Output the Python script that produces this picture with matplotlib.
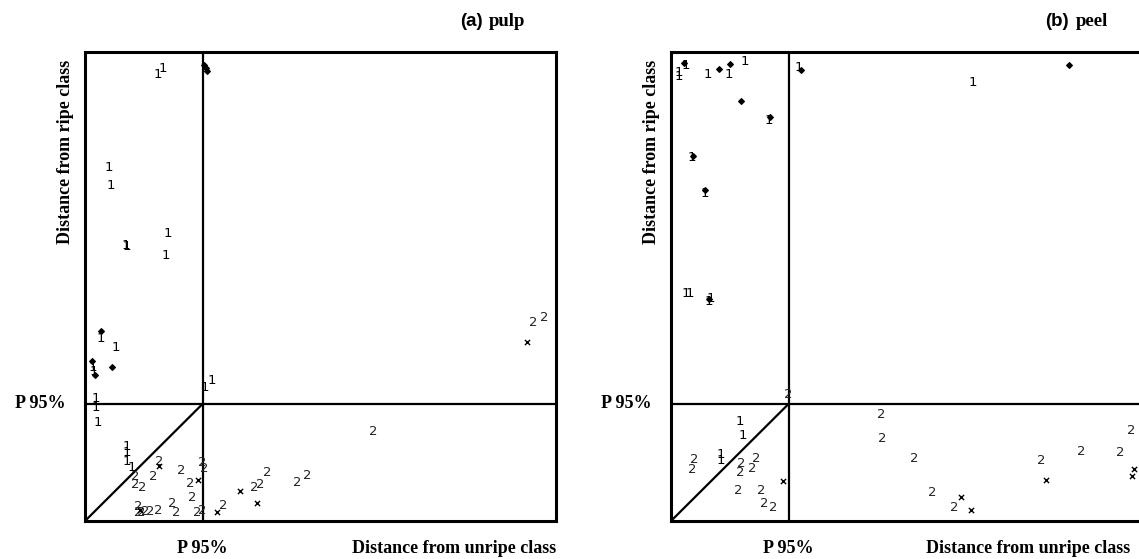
import matplotlib.pyplot as plt
import matplotlib.transforms as mtransforms

# axis units: 0..100 on both axes, P 95% limit at 25
P95 = 25

# (a) pulp
pulp_ones_x = [15.5, 16.6, 5.1, 5.5, 8.7, 8.9, 17.6, 17.2, 3.4, 6.6, 1.7, 1.9, 25.5, 27.0,
               2.3, 2.3, 2.8, 8.9, 8.9, 8.9, 10.0]
pulp_ones_y = [95.1, 96.4, 75.3, 71.6, 58.8, 58.6, 61.4, 56.7, 39.0, 37.1, 32.8, 31.8, 28.4, 29.9,
               26.2, 24.1, 21.1, 15.8, 14.7, 12.6, 11.5]
pulp_diam_x = [25.3, 25.6, 25.9, 3.4, 1.5, 2.1, 5.7]
pulp_diam_y = [97.2, 96.6, 96.0, 40.5, 34.1, 31.1, 32.8]
pulp_twos_x = [10.6, 10.6, 12.1, 14.4, 15.7, 20.4, 22.3, 22.7, 24.8, 25.3,
               11.3, 11.3, 11.9, 12.7, 13.8, 15.5, 18.5, 19.3, 23.8, 24.8,
               29.3, 35.9, 37.2, 38.6, 45.0, 47.1, 61.1, 95.1, 97.5]
pulp_twos_y = [9.4, 7.7, 7.2, 9.4, 12.6, 10.7, 8.1, 5.1, 12.4, 11.3,
               3.0, 1.9, 1.9, 2.1, 2.1, 2.3, 3.8, 1.9, 1.9, 2.3,
               3.4, 7.2, 7.7, 10.4, 8.3, 9.8, 19.0, 42.4, 43.3]
pulp_cross_x = [15.7, 24.0, 28.0, 32.9, 36.5, 93.8, 11.7]
pulp_cross_y = [11.7, 8.7, 1.9, 6.4, 3.8, 38.2, 2.3]

# (b) peel
peel_ones_x = [1.7, 1.7, 3.2, 7.9, 12.3, 15.7, 20.8, 4.5, 7.2, 3.2, 4.0, 8.1, 8.5,
               27.2, 64.1, 14.6, 15.3, 10.6, 10.6]
peel_ones_y = [94.7, 95.7, 97.2, 95.1, 95.3, 97.9, 85.5, 77.4, 69.9, 48.6, 48.6, 46.7, 47.5,
               96.8, 93.6, 21.3, 18.3, 14.1, 13.0]
peel_diam_x = [2.8, 10.2, 12.5, 14.9, 21.0, 4.7, 7.2, 8.1, 27.6, 84.5]
peel_diam_y = [97.7, 96.4, 97.4, 89.6, 86.1, 77.8, 70.6, 47.3, 96.2, 97.2]
peel_twos_x = [24.8, 4.9, 4.5, 14.9, 14.6, 18.0, 17.2, 14.2, 19.1, 19.7, 21.7,
               44.6, 44.8, 51.6, 55.4, 60.1, 78.6, 87.0, 95.3, 97.7]
peel_twos_y = [26.9, 13.2, 10.9, 12.2, 10.4, 13.4, 11.1, 6.4, 6.4, 3.8, 2.8,
               22.8, 17.5, 13.4, 6.0, 2.8, 12.8, 14.9, 14.7, 19.2]
peel_cross_x = [23.8, 61.6, 63.7, 79.6, 98.3, 97.9]
peel_cross_y = [8.5, 5.1, 2.3, 8.7, 11.1, 9.6]

serif = 'Liberation Serif'

fig = plt.figure(figsize=(11.39, 5.59), dpi=100)
ax_a = fig.add_axes([85 / 1139, 38 / 559, 471 / 1139, 469 / 559])
ax_b = fig.add_axes([671 / 1139, 38 / 559, 471 / 1139, 469 / 559])


def draw_panel(ax, ones_x, ones_y, diam_x, diam_y, twos_x, twos_y, cross_x, cross_y, unripe_x):
    ax.set_xlim(0, 100)
    ax.set_ylim(0, 100)
    ax.set_xticks([])
    ax.set_yticks([])
    for s in ax.spines.values():
        s.set_linewidth(2.2)

    ax.axvline(P95, color='black', lw=1.6)
    ax.axhline(P95, color='black', lw=1.6)
    ax.plot([0, P95], [0, P95], color='black', lw=1.6)

    for x, y in zip(ones_x, ones_y):
        ax.text(x, y, '1', fontsize=9.5, ha='center', va='center', color='black')
    for x, y in zip(twos_x, twos_y):
        ax.text(x, y, '2', fontsize=9.5, ha='center', va='center', color='#222222')
    ax.scatter(diam_x, diam_y, marker='D', s=8, color='black', zorder=3)
    ax.scatter(cross_x, cross_y, marker='x', s=14, color='black', linewidths=1.0, zorder=3)

    left = mtransforms.blended_transform_factory(ax.transAxes, ax.transData)
    bottom = mtransforms.blended_transform_factory(ax.transData, ax.transAxes)
    ax.text(-0.042, P95, 'P 95%', transform=left, ha='right', va='center',
            fontsize=13, fontweight='bold', family=serif)
    ax.text(P95, -0.058, 'P 95%', transform=bottom, ha='center', va='center',
            fontsize=13, fontweight='bold', family=serif)
    ax.text(unripe_x, -0.058, 'Distance from unripe class', transform=ax.transAxes,
            ha='right', va='center', fontsize=13, fontweight='bold', family=serif)
    ax.text(-0.042, 0.983, 'Distance from ripe class', transform=ax.transAxes,
            rotation=90, ha='center', va='top', fontsize=13, fontweight='bold', family=serif)


draw_panel(ax_a, pulp_ones_x, pulp_ones_y, pulp_diam_x, pulp_diam_y,
           pulp_twos_x, pulp_twos_y, pulp_cross_x, pulp_cross_y, 1.0)
draw_panel(ax_b, peel_ones_x, peel_ones_y, peel_diam_x, peel_diam_y,
           peel_twos_x, peel_twos_y, peel_cross_x, peel_cross_y, 0.975)

# panel titles
fig.text(483 / 1139, 1 - 21 / 559, '(a)', ha='right', va='center', fontsize=13.5,
         fontweight='bold', family='Liberation Sans')
fig.text(489 / 1139, 1 - 21 / 559, 'pulp', ha='left', va='center', fontsize=13.5,
         fontweight='bold', family=serif)
fig.text(1069 / 1139, 1 - 21 / 559, '(b)', ha='right', va='center', fontsize=13.5,
         fontweight='bold', family='Liberation Sans')
fig.text(1076 / 1139, 1 - 21 / 559, 'peel', ha='left', va='center', fontsize=13.5,
         fontweight='bold', family=serif)

fig.savefig('out.png', dpi=100)
plt.close(fig)
